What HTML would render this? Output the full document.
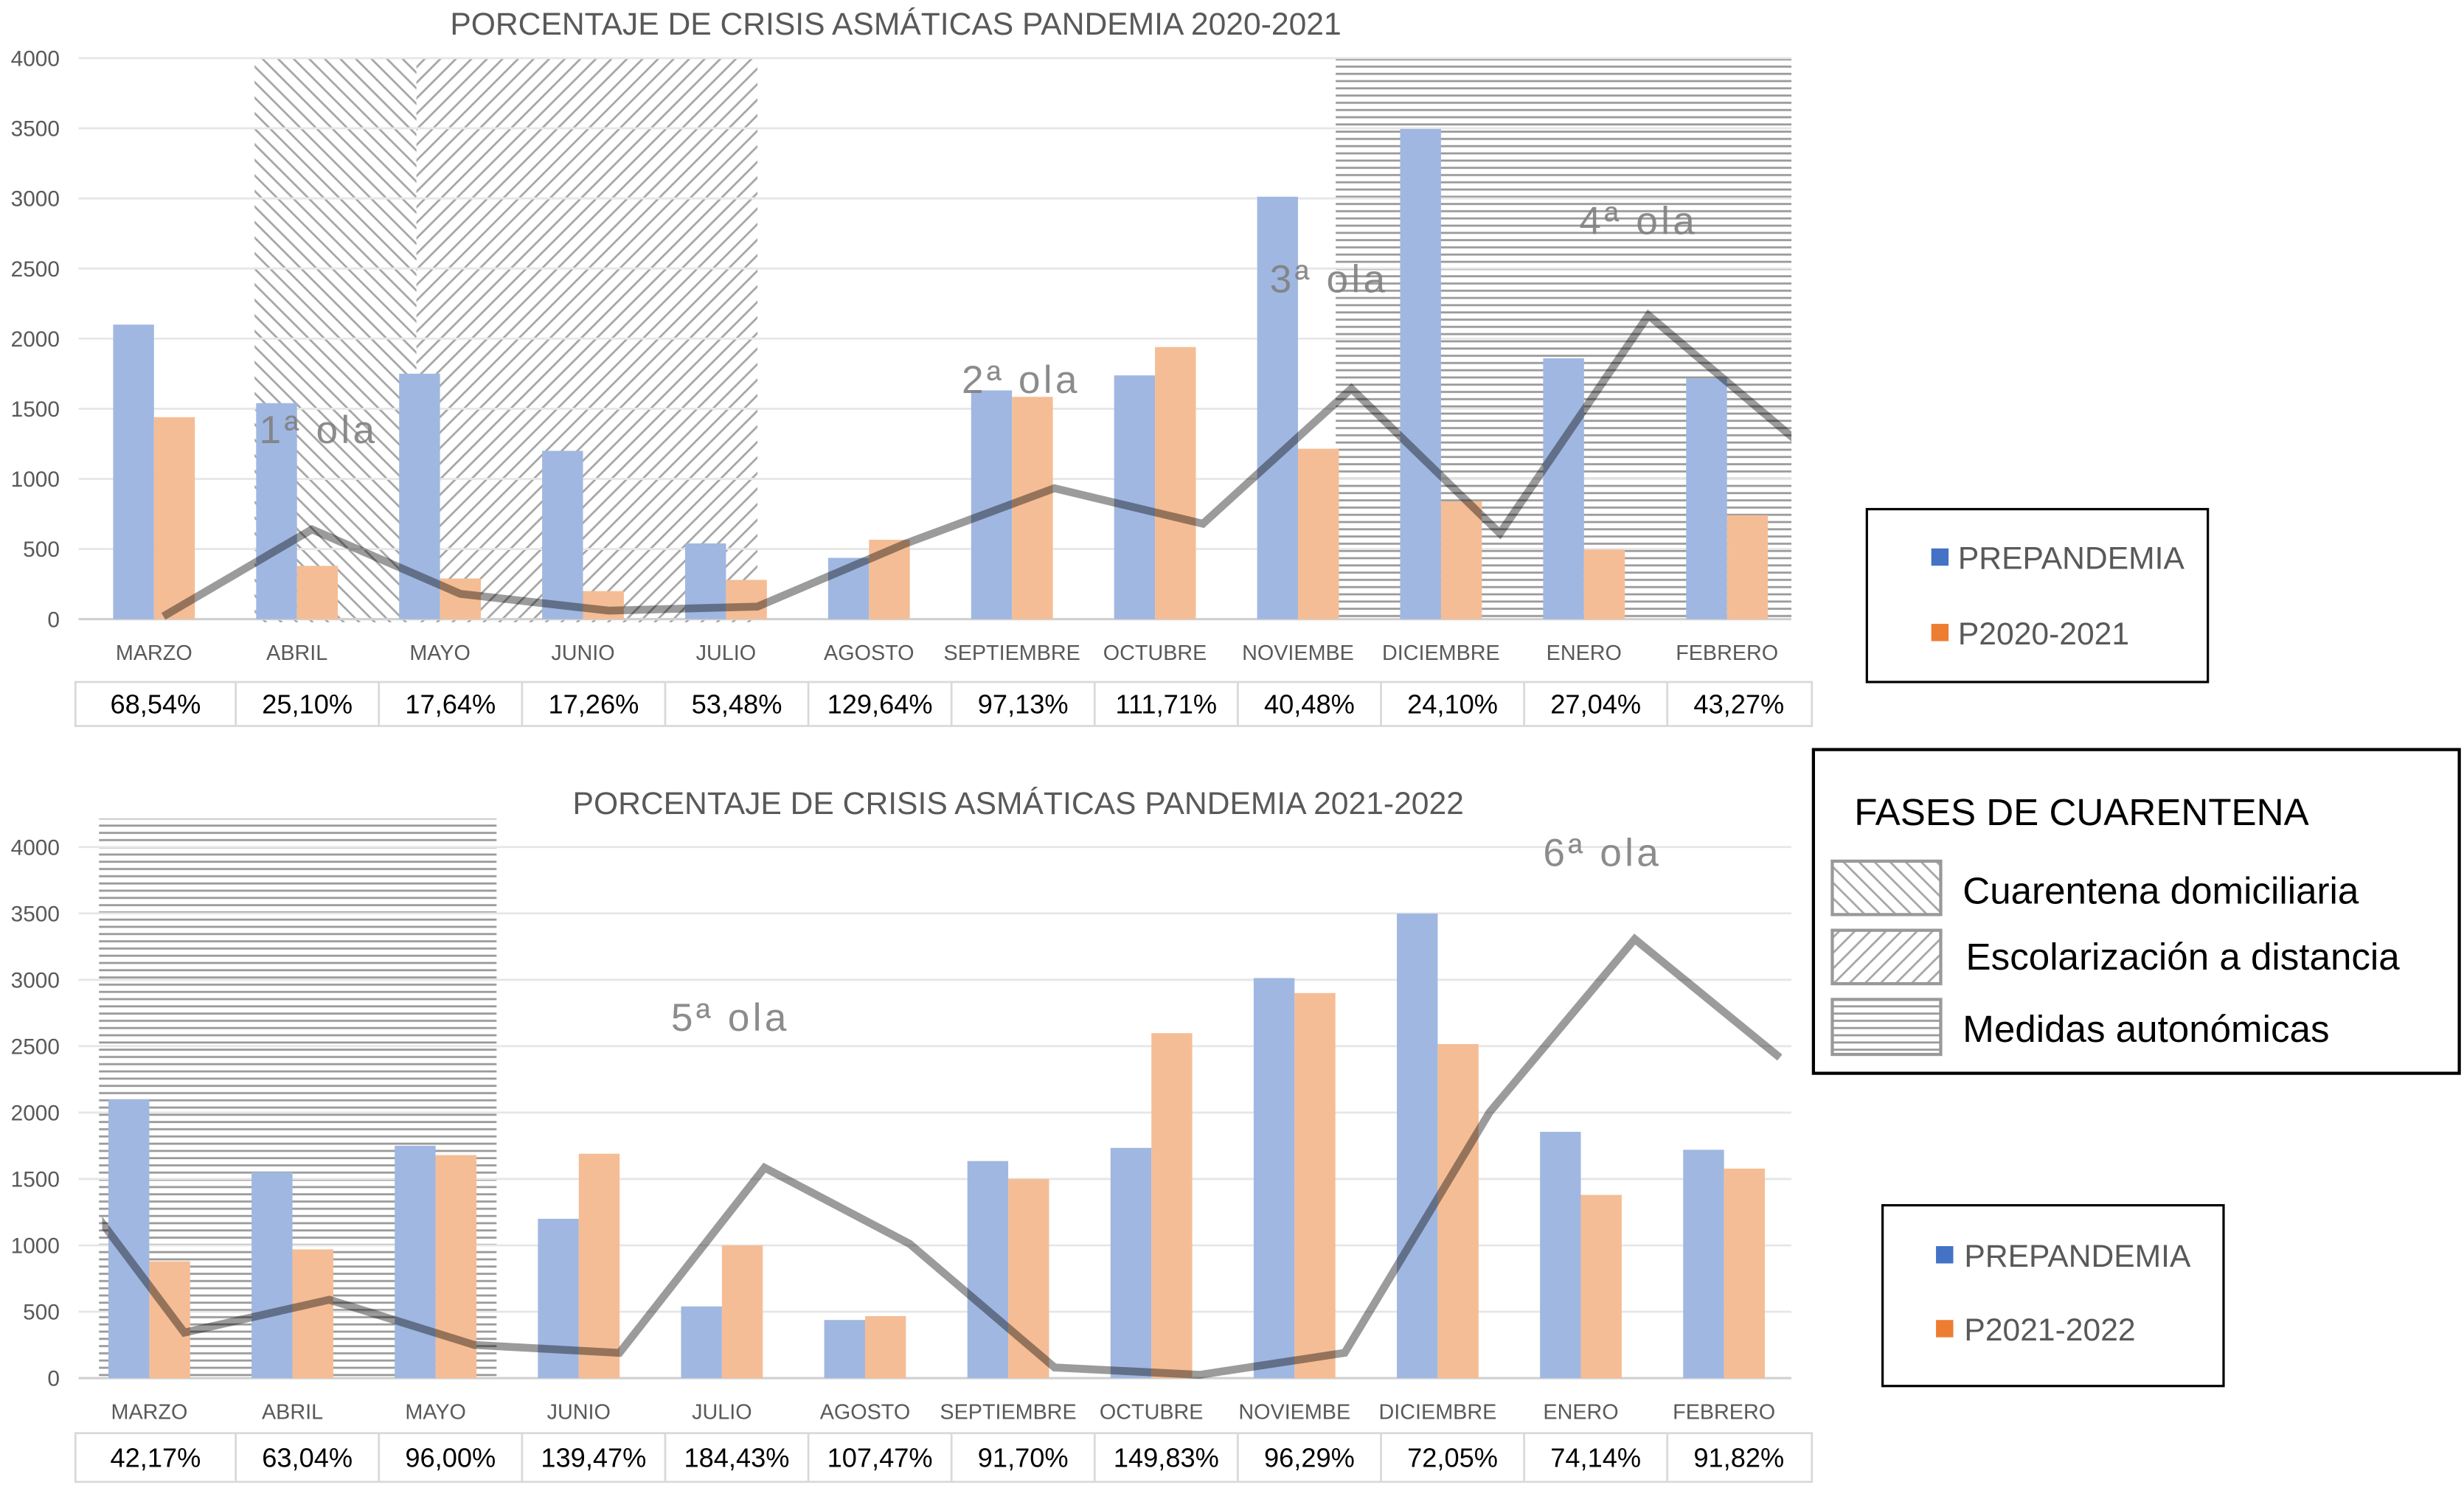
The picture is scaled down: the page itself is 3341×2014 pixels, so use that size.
<!DOCTYPE html>
<html><head><meta charset="utf-8">
<style>
html,body{margin:0;padding:0;background:#fff;}
svg{display:block;}
text{font-family:"Liberation Sans",sans-serif;}
</style></head>
<body>
<svg id="fig" width="3341" height="2014" viewBox="0 0 1568 945" preserveAspectRatio="none" xmlns="http://www.w3.org/2000/svg">
<defs>
  <pattern id="pBack" patternUnits="userSpaceOnUse" width="7" height="7" patternTransform="rotate(-45)">
    <line x1="0" y1="0" x2="0" y2="7" stroke="#a6a6a6" stroke-width="2.6"/>
  </pattern>
  <pattern id="pFwd" patternUnits="userSpaceOnUse" width="7" height="7" patternTransform="rotate(45)">
    <line x1="0" y1="0" x2="0" y2="7" stroke="#a6a6a6" stroke-width="2.6"/>
  </pattern>
  <pattern id="pHor" patternUnits="userSpaceOnUse" width="10" height="4.6">
    <line x1="0" y1="1" x2="10" y2="1" stroke="#9a9a9a" stroke-width="1.3"/>
  </pattern>
  <clipPath id="clip1"><rect x="50" y="30" width="1090" height="370"/></clipPath>
  <clipPath id="clip2"><rect x="65" y="510" width="1075" height="370"/></clipPath>
</defs>
<g id="c1"></g>
<g id="c2"></g>

<g>
  <rect x="1188" y="324" width="217" height="110" fill="#fff" stroke="#000" stroke-width="1.5"/>
  <rect x="1229" y="349" width="11" height="11" fill="#4472c4"/>
  <text x="1246" y="362" font-size="20" fill="#595959">PREPANDEMIA</text>
  <rect x="1229" y="397" width="11" height="11" fill="#ed7d31"/>
  <text x="1246" y="410" font-size="20" fill="#595959">P2020-2021</text>
</g>
<g>
  <rect x="1198" y="767" width="217" height="115" fill="#fff" stroke="#000" stroke-width="1.5"/>
  <rect x="1232" y="793" width="11" height="11" fill="#4472c4"/>
  <text x="1250" y="806" font-size="20" fill="#595959">PREPANDEMIA</text>
  <rect x="1232" y="840" width="11" height="11" fill="#ed7d31"/>
  <text x="1250" y="853" font-size="20" fill="#595959">P2021-2022</text>
</g>
<g>
  <rect x="1154" y="477" width="411" height="206" fill="#fff" stroke="#000" stroke-width="2"/>
  <text x="1180" y="525" font-size="24" fill="#000">FASES DE CUARENTENA</text>
  <rect x="1166" y="548" width="69" height="34" fill="url(#pBack)" stroke="#999" stroke-width="2"/>
  <text x="1249" y="575" font-size="24" fill="#000">Cuarentena domiciliaria</text>
  <rect x="1166" y="592" width="69" height="34" fill="url(#pFwd)" stroke="#999" stroke-width="2"/>
  <text x="1251" y="617" font-size="24" fill="#000">Escolarización a distancia</text>
  <rect x="1166" y="636" width="69" height="35" fill="url(#pHor)" stroke="#999" stroke-width="2"/>
  <text x="1249" y="663" font-size="24" fill="#000">Medidas autonómicas</text>
</g>
</svg>
<script>
const months = ["MARZO","ABRIL","MAYO","JUNIO","JULIO","AGOSTO","SEPTIEMBRE","OCTUBRE","NOVIEMBE","DICIEMBRE","ENERO","FEBRERO"];
const yTicks = [0,500,1000,1500,2000,2500,3000,3500,4000];
const pre1 = [2100,1540,1750,1200,540,437,1631,1738,3012,3495,1860,1717];
const pan1 = [1440,380,290,200,280,566,1585,1940,1215,840,496,741];
const trend1 = [20,640,180,60,90,540,933,680,1644,612,2167,1270];
const pct1 = ["68,54%","25,10%","17,64%","17,26%","53,48%","129,64%","97,13%","111,71%","40,48%","24,10%","27,04%","43,27%"];
const pre2 = [2100,1550,1750,1200,540,438,1635,1734,3013,3499,1855,1720];
const pan2 = [880,970,1680,1690,1000,467,1500,2598,2900,2516,1380,1578];
const trend2 = [1800,343,590,250,190,1585,1012,80,25,190,2003,3306,2414];
const pct2 = ["42,17%","63,04%","96,00%","139,47%","184,43%","107,47%","91,70%","149,83%","96,29%","72,05%","74,14%","91,82%"];

const NS="http://www.w3.org/2000/svg";
function mk(parent,tag,attrs,txt){const e=document.createElementNS(NS,tag);for(const k in attrs)e.setAttribute(k,attrs[k]);if(txt!==undefined)e.textContent=txt;parent.appendChild(e);return e;}

function drawChart(g,cfg){
  const y=v=>cfg.y0-(v/4000)*(cfg.y0-cfg.y4000);
  const cx=i=>cfg.cx0+i*cfg.step;
  const t=mk(g,'text',{x:cfg.titleX,y:cfg.titleY,'font-size':20,fill:'#595959','text-anchor':'middle'},cfg.title);
  
  
  cfg.regions.forEach(r=>{
    const rr=mk(g,'rect',{x:r.x,y:r.y,width:r.w,height:r.h,fill:'url(#'+r.p+')'});
    
    
  });
  yTicks.forEach(v=>{
    const gl=mk(g,'line',{x1:cfg.gx1,x2:1140,y1:y(v),y2:y(v),stroke:v===0?'#d0d0d0':'#e6e6e6','stroke-width':v===0?1.5:1.3});
    
    
    const tl=mk(g,'text',{x:38,y:y(v)+5,'font-size':14,fill:'#595959','text-anchor':'end'},String(v));
    
    
  });
  const bw=26;
  cfg.pre.forEach((v,i)=>{
    const b=mk(g,'rect',{x:cx(i)-bw,y:y(v),width:bw,height:y(0)-y(v),fill:'#a0b7e1'});
    
    
  });
  cfg.pan.forEach((v,i)=>{
    const b=mk(g,'rect',{x:cx(i),y:y(v),width:bw,height:y(0)-y(v),fill:'#f5bd95'});
    
    
  });
  const pts=cfg.trend.map((v,i)=>(cfg.lx0+i*cfg.lstep).toFixed(1)+','+y(v).toFixed(1)).join(' ');
  const pl=mk(g,'polyline',{points:pts,fill:'none',stroke:'#8a8a8a','stroke-width':5,'stroke-opacity':0.85,'stroke-linejoin':'miter','clip-path':'url(#'+cfg.clip+')',style:'mix-blend-mode:multiply'});
  
  
  cfg.waves.forEach(w=>{
    const wt=mk(g,'text',{x:w.x,y:w.y,'font-size':25,fill:'#808080','letter-spacing':'2','fill-opacity':0.9},w.t);
    
    
  });
  months.forEach((m,i)=>{
    const c=mk(g,'text',{x:cx(i),y:cfg.catY,'font-size':13.5,fill:'#595959','text-anchor':'middle'},m);
    
    
  });
  const tb=mk(g,'rect',{x:48,y:cfg.tY,width:1105,height:cfg.tH,fill:'#fff',stroke:'#d9d9d9','stroke-width':1.3});
  
  
  const edges=[48];for(let i=0;i<12;i++)edges.push(150+i*91.1);
  for(let i=1;i<12;i++){
    const d=mk(g,'line',{x1:edges[i],x2:edges[i],y1:cfg.tY,y2:cfg.tY+cfg.tH,stroke:'#d9d9d9','stroke-width':1.3});
    
    
  }
  cfg.pct.forEach((p,i)=>{
    const c=mk(g,'text',{x:(edges[i]+edges[i+1])/2,y:cfg.tY+cfg.tH/2+6,'font-size':17,fill:'#000','text-anchor':'middle'},p);
    
    
  });
}

drawChart(document.getElementById('c1'),{
  title:"PORCENTAJE DE CRISIS ASMÁTICAS PANDEMIA 2020-2021",titleX:570,titleY:22,
  y0:394,y4000:37,cx0:98,step:91,gx1:50,
  pre:pre1,pan:pan1,trend:trend1,lx0:104,lstep:94.5,clip:'clip1',
  regions:[{x:162,y:37,w:103,h:359,p:'pBack',name:'cuarentena-domiciliaria-region'},
           {x:265,y:37,w:217,h:359,p:'pFwd',name:'escolarizacion-distancia-region'},
           {x:850,y:37,w:290,h:357,p:'pHor',name:'medidas-autonomicas-region'}],
  waves:[{x:165,y:282,t:"1ª ola"},{x:612,y:250,t:"2ª ola"},{x:808,y:186,t:"3ª ola"},{x:1005,y:149,t:"4ª ola"}],
  catY:420,tY:434,tH:28,pct:pct1
});
drawChart(document.getElementById('c2'),{
  title:"PORCENTAJE DE CRISIS ASMÁTICAS PANDEMIA 2021-2022",titleX:648,titleY:518,
  y0:877,y4000:539,cx0:95,step:91.1,gx1:50,
  pre:pre2,pan:pan2,trend:trend2,lx0:25,lstep:92.3,clip:'clip2',
  regions:[{x:63,y:521,w:253,h:356,p:'pHor',name:'medidas-autonomicas-region'}],
  waves:[{x:427,y:656,t:"5ª ola"},{x:982,y:551,t:"6ª ola"}],
  catY:903,tY:912,tH:31,pct:pct2
});
</script>
</body></html>
